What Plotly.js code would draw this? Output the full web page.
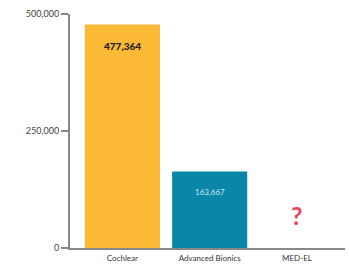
<!DOCTYPE html>
<html><head><meta charset="utf-8">
<script src="https://cdn.plot.ly/plotly-3.0.1.min.js"></script>
<style>html,body{margin:0;padding:0;background:#fff;}#chart{width:349px;height:264px;}</style>
</head><body><div id="chart"></div>
<script>
const categories = ["Cochlear", "Advanced Bionics", "MED-EL"];
const values = [477364, 163667, null];
const valueLabels = ["477,364", "163,667", ""];
const barColors = ["#FBB935", "#0A86A8", "#ffffff"];
const tickVals = [0, 250000, 500000];
const tickText = ["0", "250,000", "500,000"];
const unknownLabel = "?";
const unknownY = 70000;

const trace = {
  type: "bar",
  x: categories,
  y: values,
  marker: {color: barColors},
  hoverinfo: "none"
};

const annotations = [];
categories.forEach((c, i) => {
  if (values[i] != null) {
    annotations.push({
      x: c, y: values[i], text: valueLabels[i], showarrow: false,
      yshift: -21,
      font: {family: "Lato, Arial, sans-serif", size: i === 0 ? 10 : 8, color: i === 0 ? "#222" : "#cfe8ef", weight: i === 0 ? 900 : 400}
    });
  }
});
annotations.push({
  x: categories[2], y: unknownY, text: unknownLabel, showarrow: false,
  font: {family: "Lato, Arial, sans-serif", size: 25, color: "#E8455E", weight: 700}
});

const layout = {
  width: 349, height: 264,
  margin: {l: 70, r: 4, t: 14, b: 16},
  paper_bgcolor: "#fff", plot_bgcolor: "#fff",
  showlegend: false,
  bargap: 0.14,
  xaxis: {
    range: [-0.6, 2.55],
    showline: true, linecolor: "#888", linewidth: 2,
    ticks: "", showgrid: false,
    tickfont: {family: "Lato, Arial, sans-serif", size: 8, color: "#333"},
    ticklabelstandoff: 1
  },
  yaxis: {
    range: [0, 500000],
    tickvals: tickVals, ticktext: tickText,
    showline: true, linecolor: "#888", linewidth: 2,
    ticks: "outside", ticklen: 7, tickwidth: 2, tickcolor: "#888",
    showgrid: false, zeroline: false,
    tickfont: {family: "Lato, Arial, sans-serif", size: 9, color: "#444"}
  },
  annotations: annotations
};

Plotly.newPlot("chart", [trace], layout, {displayModeBar: false, staticPlot: true});
</script>
</body></html>
